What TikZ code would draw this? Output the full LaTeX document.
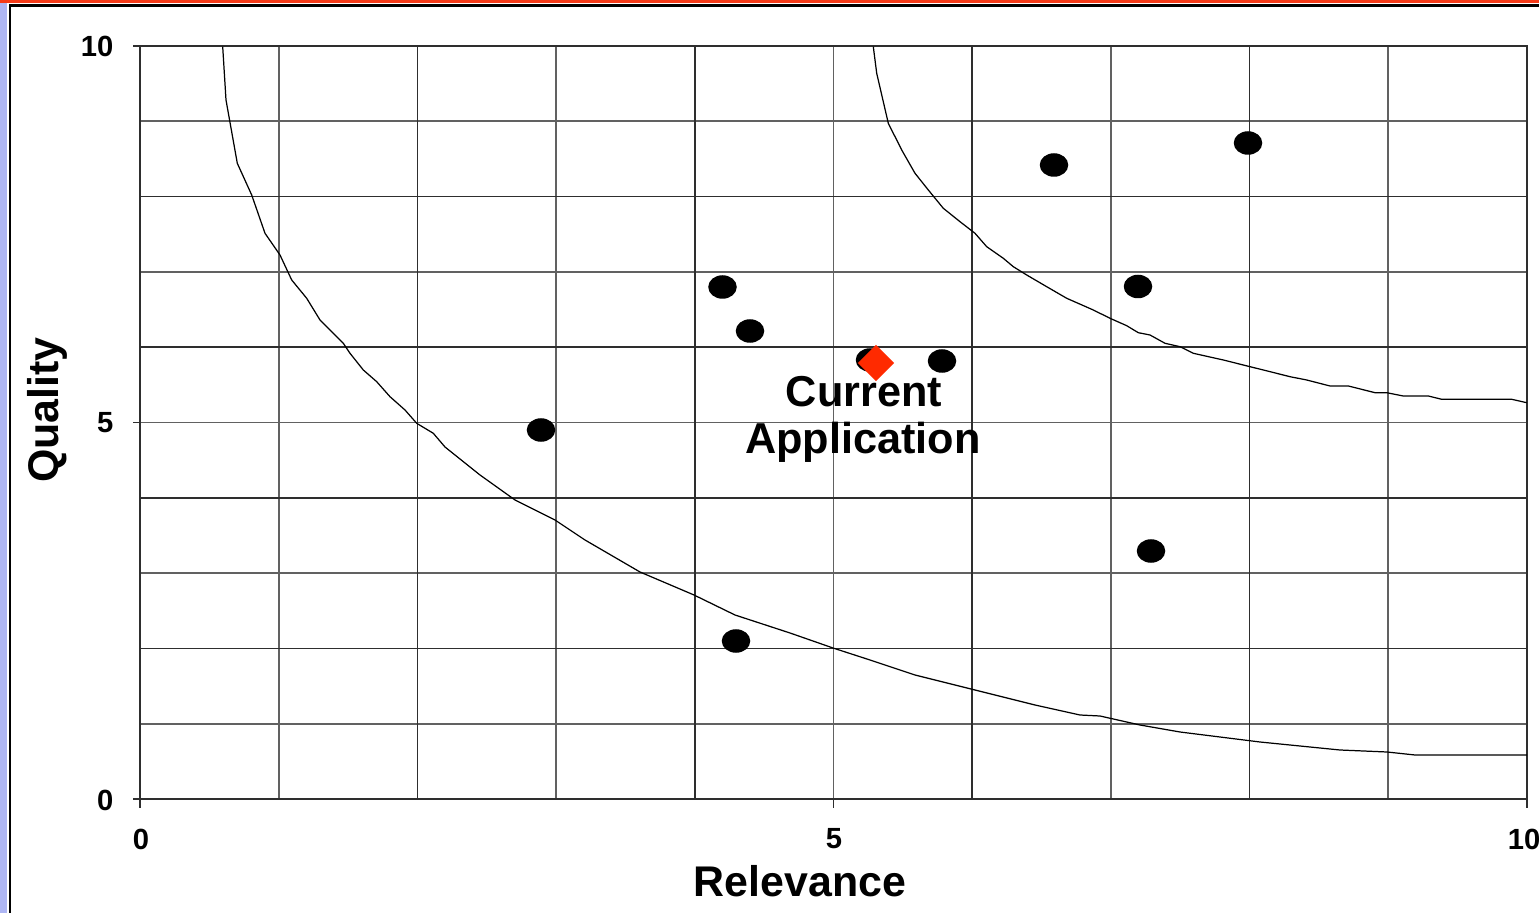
\documentclass[tikz,border=0pt]{standalone}
\usepackage{fontspec}
\setmainfont{Liberation Sans}
\usetikzlibrary{shapes.geometric}
\definecolor{framered}{HTML}{F53A18}
\definecolor{sidestrip}{HTML}{AEB6F4}
\definecolor{markred}{HTML}{FF2A00}
\tikzset{
  gridmajor/.style={draw=black!82, line width=0.5pt},
  gridminor/.style={draw=black!62, line width=0.5pt},
  curve/.style={draw=black, line width=0.35pt},
  dot/.style={ellipse, fill=black, inner sep=0pt, minimum width=0.285cm, minimum height=0.235cm},
  marker/.style={diamond, fill=markred, inner sep=0pt, minimum width=0.37cm, minimum height=0.37cm},
  ticklabel/.style={font=\fontsize{8.3}{9}\selectfont\bfseries, inner sep=0pt},
  axistitle/.style={font=\fontsize{12.2}{14}\selectfont\bfseries, inner sep=0pt},
  pointlabel/.style={font=\fontsize{12.3}{14}\selectfont\bfseries, inner sep=0pt, align=center}
}
\begin{document}
\begin{tikzpicture}[x=0.01cm, y=-0.01cm]
\useasboundingbox (0,0) rectangle (1539,913);
\fill[white] (0,0) rectangle (1539,913);
% slide frame: red band, left strip, black border lines
\fill[framered] (0,0) rectangle (1539,3.5);
\fill[sidestrip] (0,3.5) rectangle (7,913);
\draw[black, line width=0.6pt] (9,5.5) -- (1539,5.5);
\draw[black, line width=0.6pt] (10,5.5) -- (10,913);
% grid
\foreach \i in {1,3,5,7,9} {
  \draw[gridminor] ({140+138.7*\i},46) -- ({140+138.7*\i},799);
  \draw[gridminor] (140,{799-75.3*\i}) -- (1527,{799-75.3*\i});
}
\foreach \i in {2,4,6,8} {
  \draw[gridmajor] ({140+138.7*\i},46) -- ({140+138.7*\i},799);
  \draw[gridmajor] (140,{799-75.3*\i}) -- (1527,{799-75.3*\i});
}
% plot border and axes with ticks
\draw[gridmajor] (140,46) rectangle (1527,799);
\foreach \i in {0,5,10} {
  \draw[gridmajor] (133,{799-75.3*\i}) -- (140,{799-75.3*\i});
  \draw[gridmajor] ({140+138.7*\i},799) -- ({140+138.7*\i},808);
}
% axis labels
\node[ticklabel, anchor=east] (y10) at (114,46) {10};
\node[ticklabel, anchor=east] (y5) at (114,423) {5};
\node[ticklabel, anchor=east] (y0) at (114,800) {0};
\node[ticklabel] (x0) at (141,839) {0};
\node[ticklabel] (x5) at (834,839) {5};
\node[ticklabel] (x10) at (1524,839) {10};
\node[axistitle] (xt) at (800,881) {Relevance};
\node[axistitle, rotate=90] (yt) at (47,410) {Quality};
% iso-curves
\draw[curve] plot coordinates {(222.7,46.7) (226,100) (237.3,163.3) (251.7,195) (265,233.3) (280,255) (291.7,280) (306.7,298.3) (320,320) (343.3,343.3) (350,353.3) (363.3,370) (376.7,381.7) (390,396.7) (405,410) (416.7,423.3) (433.3,433.3) (445,447) (480,475) (515,500) (555,520) (585,540) (640,572) (694,595) (735,615) (790,633) (833,648) (870,660) (915,675) (975,690) (1035,705) (1080,715) (1100,716) (1140,725) (1180,732) (1220,737) (1260,742) (1300,746) (1340,750) (1387,752) (1415,755) (1527,755)};
\draw[curve] plot coordinates {(873.3,46.7) (876.7,73.3) (888.3,123.3) (901.7,150) (915,173.3) (928.3,190) (943.3,208.3) (960,221.7) (975,233.3) (986.7,246.7) (1003.3,258.3) (1013.3,266.7) (1026.7,275) (1046.7,286.7) (1066.7,298.3) (1093.3,310) (1110,318.3) (1126.7,325.7) (1138.3,332.7) (1150,335) (1165,343.3) (1180,346.7) (1193.3,353.3) (1223.3,360) (1250,366.7) (1263.3,370) (1290,376.7) (1306.7,380) (1330,386) (1348.3,386) (1375,392.7) (1386.7,392.7) (1403.3,396) (1428.3,396) (1441.7,399.3) (1511.7,399.3) (1526.7,402.7)};
% data points
\node[dot] (p1) at (722.5,287) {};
\node[dot] (p2) at (750,331) {};
\node[dot] (p3) at (541,430) {};
\node[dot] (p4) at (736,641) {};
\node[dot] (p5) at (942,361) {};
\node[dot] (p6) at (1054,165) {};
\node[dot] (p7) at (1248,143) {};
\node[dot] (p8) at (1138,286.5) {};
\node[dot] (p9) at (1151,551) {};
\node[dot] (p10) at (870,360) {};
\node[marker] (cur) at (876,363) {};
\node[pointlabel] (curtext) at (864,392) {Current};
\node[pointlabel] (apptext) at (863,442) {Application};
\end{tikzpicture}
\end{document}
